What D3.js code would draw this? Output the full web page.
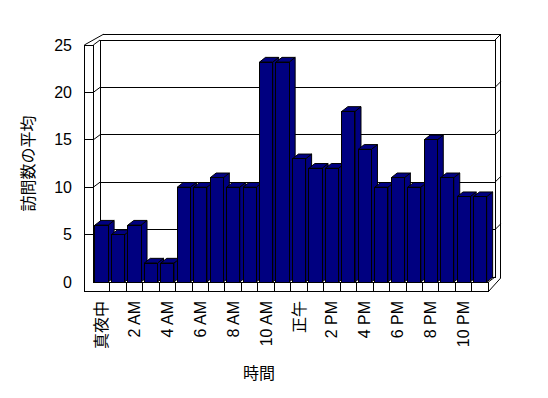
<!DOCTYPE html>
<html>
<head>
<meta charset="utf-8">
<script src="https://cdnjs.cloudflare.com/ajax/libs/d3/7.8.5/d3.min.js"></script>
<style>
  body { margin: 0; background: #fff; }
  text { font-family: "Liberation Sans", "Noto Sans CJK JP", sans-serif; font-size: 16px; fill: #000; }
</style>
</head>
<body>
<div id="container"></div>
<script>
// Data
var hours = ['0', '1', '2', '3', '4', '5', '6', '7', '8', '9', '10', '11',
             '12', '13', '14', '15', '16', '17', '18', '19', '20', '21', '22', '23'];
var visits = [6, 5, 6, 2, 2, 10, 10, 11, 10, 10, 23.2, 23.2,
              13, 12, 12, 18, 14, 10, 11, 10, 15, 11, 9, 9];
var hourLabels = ['真夜中', '2 AM', '4 AM', '6 AM', '8 AM', '10 AM',
                  '正午', '2 PM', '4 PM', '6 PM', '8 PM', '10 PM'];
var yTicks = [0, 5, 10, 15, 20, 25];
var yTitle = '訪問数の平均';
var xTitle = '時間';

// Basic parameters
var WIDTH = 548,
    HEIGHT = 398;

// depth of the 3d box (front plane -> back wall)
var DX = 6.7, DY = -5;
var wallFront = 84.3;     // left edge of the left wall face
var floorBottom = 291.7;  // bottom of the floor slab

var x = d3.scaleBand()
    .domain(hours)
    .range([93.3, 488.3]);

var y = d3.scaleLinear()
    .domain([0, 25])
    .range([282, 45]);

var bw = x.bandwidth();
var x0 = x.range()[0], x1 = x.range()[1];
var y0 = y(0), yTop = y(25);

var svg = d3.select('#container')
    .append('svg')
    .attr('width', WIDTH)
    .attr('height', HEIGHT);

var line = function(g, pts) {
    g.append('path')
        .attr('d', d3.line()(pts))
        .attr('fill', 'none')
        .attr('stroke', '#000')
        .attr('stroke-width', 1);
};

var box = svg.append('g').attr('shape-rendering', 'crispEdges');
var diag = svg.append('g');

// back wall
box.append('rect')
    .attr('x', x0 + DX)
    .attr('y', yTop + DY)
    .attr('width', x1 - x0)
    .attr('height', y0 - yTop)
    .attr('fill', '#fff')
    .attr('stroke', '#000');

// outer rim of the back wall
line(box, [[x0 + 2 * DX - 3.3, yTop + 2 * DY - 0.7], [x1 + 2 * DX - 1, yTop + 2 * DY - 0.7], [x1 + 2 * DX - 1, y0 + DY + 1]]);
line(diag, [[x1 + DX, yTop + DY], [x1 + 2 * DX - 1, yTop + 2 * DY - 0.7]]);

// gridlines
yTicks.filter(function(d) { return d > 0 && d < 25; }).forEach(function(d) {
    line(box, [[x0 + DX, y(d) + DY], [x1 + DX, y(d) + DY]]);
    line(diag, [[x0, y(d)], [x0 + DX, y(d) + DY]]);
    line(diag, [[x1 + DX, y(d) + DY], [x1 + 2 * DX - 1, y(d) + 2 * DY - 0.7]]);
});

// bars
var bars = svg.append('g').attr('class', 'bars');
var bdx = 6, bdy = -4.7;

hours.forEach(function(h, i) {
    var xl = x(h) + bw * 0.1,
        xr = x(h) + bw * 0.9,
        top = y(visits[i]);
    var g = bars.append('g');
    // side
    g.append('path')
        .attr('d', d3.line()([[xr, top], [xr + bdx, top + bdy], [xr + bdx, y0 + bdy], [xr, y0]]) + 'Z')
        .attr('fill', '#000080').attr('stroke', '#000');
    // top
    g.append('path')
        .attr('d', d3.line()([[xl, top], [xl + bdx, top + bdy], [xr + bdx, top + bdy], [xr, top]]) + 'Z')
        .attr('fill', '#000080').attr('stroke', '#000');
    // front
    g.append('rect')
        .attr('x', xl)
        .attr('y', top)
        .attr('width', xr - xl)
        .attr('height', y0 - top)
        .attr('fill', '#000080')
        .attr('stroke', '#000')
        .attr('shape-rendering', 'crispEdges');
});

// left wall and floor (front faces)
var front = svg.append('g').attr('shape-rendering', 'crispEdges');
front.append('path')
    .attr('d', d3.line()([[wallFront, yTop], [x0, yTop], [x0, y0], [x1, y0],
                          [x1, floorBottom], [wallFront, floorBottom]]) + 'Z')
    .attr('fill', '#fff')
    .attr('stroke', '#000');

yTicks.filter(function(d) { return d > 0 && d < 25; }).forEach(function(d) {
    line(front, [[wallFront, y(d)], [x0, y(d)]]);
});

// floor dividers
hours.slice(1).forEach(function(h) {
    line(front, [[x(h), y0], [x(h), floorBottom]]);
});

// top of left wall and right side of floor
line(diag, [[wallFront, yTop], [x0 + 2 * DX - 3.3, yTop + 2 * DY - 0.7]]);
line(diag, [[x0, yTop], [x0 + DX, yTop + DY]]);
line(diag, [[x1, y0], [x1 + DX, y0 + DY]]);
line(diag, [[x1, floorBottom], [x1 + 2 * DX - 1, y0 + DY + 1]]);

// y tick labels
svg.selectAll('.ylab')
    .data(yTicks)
    .enter()
    .append('text')
    .attr('class', 'ylab')
    .attr('x', 72)
    .attr('y', function(d) { return y(d); })
    .attr('text-anchor', 'end')
    .attr('dominant-baseline', 'central')
    .text(function(d) { return d; });

// x tick labels, every second hour
svg.selectAll('.xlab')
    .data(hourLabels)
    .enter()
    .append('text')
    .attr('class', 'xlab')
    .attr('transform', function(d, i) {
        return 'translate(' + (x(hours[i * 2]) + bw / 2) + ',301) rotate(-90)';
    })
    .attr('text-anchor', 'end')
    .attr('dominant-baseline', 'central')
    .text(function(d) { return d; });

// axis titles
svg.append('text')
    .attr('transform', 'translate(28,' + ((y0 + yTop) / 2) + ') rotate(-90)')
    .attr('text-anchor', 'middle')
    .attr('dominant-baseline', 'central')
    .text(yTitle);

svg.append('text')
    .attr('x', 259)
    .attr('y', 373)
    .attr('text-anchor', 'middle')
    .attr('dominant-baseline', 'central')
    .text(xTitle);
</script>
</body>
</html>
